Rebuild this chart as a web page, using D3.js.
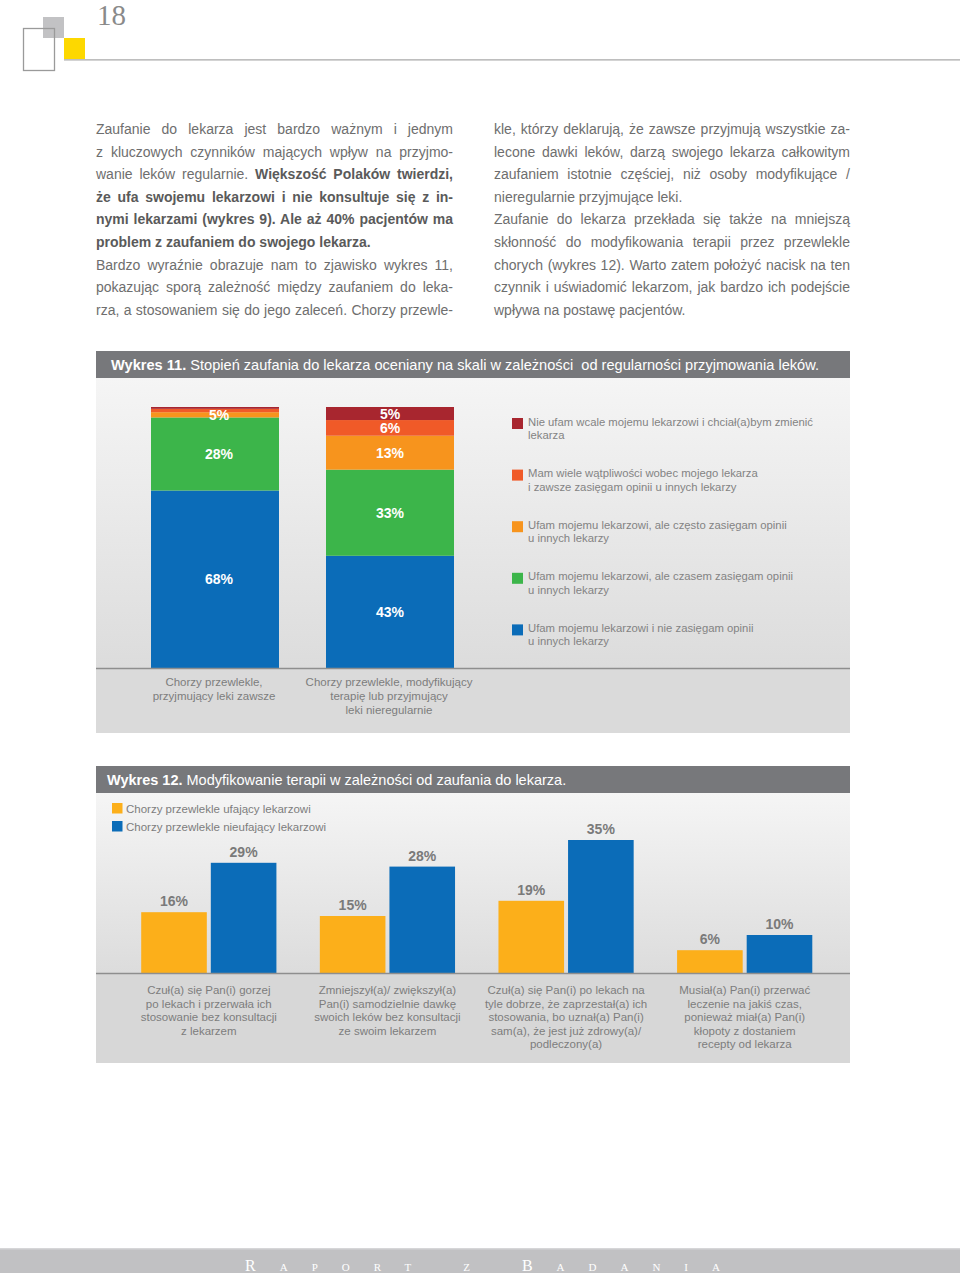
<!DOCTYPE html>
<html lang="pl">
<head>
<meta charset="UTF-8">
<title>Raport z badania - 18</title>
<script src="https://d3js.org/d3.v7.min.js"></script>
<style>
    body { margin: 0; background: #fff; }
    #page { position: relative; width: 960px; height: 1273px; overflow: hidden; font-family: "Liberation Sans", Arial, sans-serif; }
    #page svg { position: absolute; left: 0; top: 0; }
    .line { position: absolute; font-size: 14px; line-height: 22.6px; color: #6e6e6e; white-space: nowrap; }
    .line.j { text-align: justify; text-align-last: justify; white-space: normal; }
    .line b { color: #5a5a5a; }
</style>
</head>
<body>
<div id="page"></div>
<script>
// ---- chart 11 data (stacked bars, %)
var groups11 = ["Chorzy przewlekle, przyjmujący leki zawsze", "Chorzy przewlekle, modyfikujący terapię lub przyjmujący leki nieregularnie"];
var groupLines11 = [["Chorzy przewlekle,", "przyjmujący leki zawsze"], ["Chorzy przewlekle, modyfikujący", "terapię lub przyjmujący", "leki nieregularnie"]];
var levels11 = ["ufam", "czasem", "czesto", "watpliwosci", "nieufam"]; // bottom -> top
var bar1 = [68, 28, 2, 1.3, 0.7];
var bar2 = [43, 33, 13, 6, 5];
var labels1 = ["68%", "28%", "5%", "", ""];
var labels2 = ["43%", "33%", "13%", "6%", "5%"];
var legend11 = [
    ["Nie ufam wcale mojemu lekarzowi i chciał(a)bym zmienić", "lekarza"],
    ["Mam wiele wątpliwości wobec mojego lekarza", "i zawsze zasięgam opinii u innych lekarzy"],
    ["Ufam mojemu lekarzowi, ale często zasięgam opinii", "u innych lekarzy"],
    ["Ufam mojemu lekarzowi, ale czasem zasięgam opinii", "u innych lekarzy"],
    ["Ufam mojemu lekarzowi i nie zasięgam opinii", "u innych lekarzy"]
];
var legendKeys11 = ["nieufam", "watpliwosci", "czesto", "czasem", "ufam"];

// ---- chart 12 data (grouped bars, %)
var groups12 = ["gorzej", "dawka", "zdrowy", "recepta"];
var groupLines12 = [
    ["Czuł(a) się Pan(i) gorzej", "po lekach i przerwała ich", "stosowanie bez konsultacji", "z lekarzem"],
    ["Zmniejszył(a)/ zwiększył(a)", "Pan(i) samodzielnie dawkę", "swoich leków bez konsultacji", "ze swoim lekarzem"],
    ["Czuł(a) się Pan(i) po lekach na", "tyle dobrze, że zaprzestał(a) ich", "stosowania, bo uznał(a) Pan(i)", "sam(a), że jest już zdrowy(a)/", "podleczony(a)"],
    ["Musiał(a) Pan(i) przerwać", "leczenie na jakiś czas,", "ponieważ miał(a) Pan(i)", "kłopoty z dostaniem", "recepty od lekarza"]
];
var series12 = ["Chorzy przewlekle ufający lekarzowi", "Chorzy przewlekle nieufający lekarzowi"];
var ufajacy = [16, 15, 19, 6];
var nieufajacy = [29, 28, 35, 10];

// ---- body text
var leftLines = [
    ["Zaufanie do lekarza jest bardzo ważnym i jednym", 1],
    ["z kluczowych czynników mających wpływ na przyjmo-", 1],
    ["wanie leków regularnie. <b>Większość Polaków twierdzi,</b>", 1],
    ["<b>że ufa swojemu lekarzowi i nie konsultuje się z in-</b>", 1],
    ["<b>nymi lekarzami (wykres 9). Ale aż 40% pacjentów ma</b>", 1],
    ["<b>problem z zaufaniem do swojego lekarza.</b>", 0],
    ["Bardzo wyraźnie obrazuje nam to zjawisko wykres 11,", 1],
    ["pokazując sporą zależność między zaufaniem do leka-", 1],
    ["rza, a stosowaniem się do jego zaleceń. Chorzy przewle-", 1]
];
var rightLines = [
    ["kle, którzy deklarują, że zawsze przyjmują wszystkie za-", 1],
    ["lecone dawki leków, darzą swojego lekarza całkowitym", 1],
    ["zaufaniem istotnie częściej, niż osoby modyfikujące /", 1],
    ["nieregularnie przyjmujące leki.", 0],
    ["Zaufanie do lekarza przekłada się także na mniejszą", 1],
    ["skłonność do modyfikowania terapii przez przewlekle", 1],
    ["chorych (wykres 12). Warto zatem położyć nacisk na ten", 1],
    ["czynnik i uświadomić lekarzom, jak bardzo ich podejście", 1],
    ["wpływa na postawę pacjentów.", 0]
];

var page = d3.select("#page");
var svg = page.append("svg").attr("width", 960).attr("height", 1273);
var font = "'Liberation Sans', Arial, sans-serif";

// gradient for chart panels
var defs = svg.append("defs");
var grad = defs.append("linearGradient").attr("id", "panel").attr("x1", 0).attr("y1", 0).attr("x2", 0).attr("y2", 1);
grad.append("stop").attr("offset", "0%").attr("stop-color", "#f5f5f5");
grad.append("stop").attr("offset", "100%").attr("stop-color", "#dcdcdc");

// ---- page header
svg.append("rect").attr("x", 43).attr("y", 17).attr("width", 21).attr("height", 21).attr("fill", "#c2c2c4");
svg.append("rect").attr("x", 23.5).attr("y", 28.5).attr("width", 31).attr("height", 42)
    .attr("fill", "none").attr("stroke", "#9a9a9a").attr("stroke-width", 1.3);
svg.append("rect").attr("x", 64).attr("y", 38).attr("width", 21).attr("height", 21).attr("fill", "#fdd800");
svg.append("line").attr("x1", 64).attr("x2", 960).attr("y1", 59.8).attr("y2", 59.8)
    .attr("stroke", "#a8a8a8").attr("stroke-width", 1.2);
svg.append("text").attr("x", 97).attr("y", 24.5).text("18")
    .style("font-family", "'Liberation Serif', 'DejaVu Serif', serif").style("font-size", "29px").attr("fill", "#8a8a8a");

// ---- body text columns
function column(lines, x, w) {
    page.selectAll(null).data(lines).enter().append("div")
        .attr("class", function(d) { return d[1] ? "line j" : "line"; })
        .style("left", x + "px")
        .style("width", w + "px")
        .style("top", function(d, i) { return (118 + i * 22.6) + "px"; })
        .html(function(d) { return d[0]; });
}
column(leftLines, 96, 357);
column(rightLines, 494, 356);

// ---- title bars
function titleBar(y, bold, rest, x, size) {
    svg.append("rect").attr("x", 96).attr("y", y).attr("width", 754).attr("height", 27).attr("fill", "#77787b");
    var t = svg.append("text").attr("x", x).attr("y", y + 18.5)
        .style("font-family", font).style("font-size", size + "px").style("white-space", "pre")
        .attr("fill", "#fff");
    t.append("tspan").attr("font-weight", "bold").text(bold);
    t.append("tspan").text(rest);
}

// ================= CHART 11 =================
titleBar(351, "Wykres 11.", " Stopień zaufania do lekarza oceniany na skali w zależności  od regularności przyjmowania leków.", 111, 14.6);
svg.append("rect").attr("x", 96).attr("y", 378).attr("width", 754).attr("height", 290).attr("fill", "url(#panel)");
svg.append("rect").attr("x", 96).attr("y", 668).attr("width", 754).attr("height", 65).attr("fill", "#dadada");

var colors11 = d3.scaleOrdinal().domain(levels11)
    .range(["#0b6cb8", "#3cb54a", "#f7941d", "#f05a28", "#a8262f"]);
var x11 = d3.scaleBand().domain(groups11).range([151, 454]).paddingInner(0.2686).paddingOuter(0);
var y11 = d3.scaleLinear().domain([0, 100]).range([668, 407]);

var rows11 = [bar1, bar2].map(function(vals, gi) {
    var o = { group: groups11[gi] };
    levels11.forEach(function(k, i) { o[k] = vals[i]; });
    return o;
});
var stack11 = d3.stack().keys(levels11)(rows11);
var allLabels = [labels1, labels2];
var labelShift = [4, 0]; // first bar's labels sit a bit right of centre in the original

var layer = svg.append("g").selectAll("g").data(stack11).enter().append("g")
    .attr("fill", function(d) { return colors11(d.key); });
layer.selectAll("rect").data(function(d) { return d; }).enter().append("rect")
    .attr("x", function(d) { return x11(d.data.group); })
    .attr("width", x11.bandwidth())
    .attr("y", function(d) { return y11(d[1]); })
    .attr("height", function(d) { return y11(d[0]) - y11(d[1]); });

stack11.forEach(function(s, li) {
    s.forEach(function(d, gi) {
        var txt = allLabels[gi][li];
        if (!txt) return;
        svg.append("text")
            .attr("x", x11(d.data.group) + x11.bandwidth() / 2 + labelShift[gi])
            .attr("y", (y11(d[0]) + y11(d[1])) / 2 + 5)
            .attr("text-anchor", "middle")
            .style("font-family", font).style("font-size", "14px").style("font-weight", "bold")
            .attr("fill", "#fff").text(txt);
    });
});

svg.append("line").attr("x1", 96).attr("x2", 850).attr("y1", 668.5).attr("y2", 668.5)
    .attr("stroke", "#8e8e8e").attr("stroke-width", 1.6);

groups11.forEach(function(g, gi) {
    svg.append("text").attr("text-anchor", "middle")
        .style("font-family", font).style("font-size", "11.5px").attr("fill", "#7d7d7d")
        .selectAll("tspan").data(groupLines11[gi]).enter().append("tspan")
        .attr("x", x11(g) + x11.bandwidth() / 2 - 1)
        .attr("y", function(d, i) { return 686 + i * 13.8; })
        .text(function(d) { return d; });
});

// legend 11
var leg11 = svg.append("g").selectAll("g").data(legend11).enter().append("g")
    .attr("transform", function(d, i) { return "translate(512," + (421.5 + i * 51.6) + ")"; });
leg11.append("rect").attr("x", 0).attr("y", -3.5).attr("width", 11).attr("height", 11)
    .attr("fill", function(d, i) { return colors11(legendKeys11[i]); });
leg11.append("text").style("font-family", font).style("font-size", "11.3px").attr("fill", "#838383")
    .selectAll("tspan").data(function(d) { return d; }).enter().append("tspan")
    .attr("x", 16).attr("y", function(d, i) { return 4 + i * 13.6; })
    .text(function(d) { return d; });

// ================= CHART 12 =================
titleBar(766, "Wykres 12.", " Modyfikowanie terapii w zależności od zaufania do lekarza.", 107, 14.5);
svg.append("rect").attr("x", 96).attr("y", 793).attr("width", 754).attr("height", 180).attr("fill", "url(#panel)");
svg.append("rect").attr("x", 96).attr("y", 973).attr("width", 754).attr("height", 90).attr("fill", "#d7d7d7");

var colors12 = d3.scaleOrdinal().domain(series12).range(["#fcaf1a", "#0b6cb8"]);
var x0 = d3.scaleBand().domain(groups12).range([119.5, 834]).padding(0);
var x1 = d3.scaleBand().domain(series12).range([0, 135.2]).paddingInner(0.0575).paddingOuter(0);
var y12 = d3.scaleLinear().domain([0, 35]).range([973, 840]);
var off = (x0.bandwidth() - 135.2) / 2;

var rows12 = groups12.map(function(g, i) {
    return [{ g: g, s: series12[0], v: ufajacy[i] }, { g: g, s: series12[1], v: nieufajacy[i] }];
});
var grp = svg.append("g").selectAll("g").data(rows12).enter().append("g")
    .attr("transform", function(d) { return "translate(" + (x0(d[0].g) + off) + ",0)"; });
grp.selectAll("rect").data(function(d) { return d; }).enter().append("rect")
    .attr("x", function(d) { return x1(d.s); })
    .attr("width", x1.bandwidth())
    .attr("y", function(d) { return y12(d.v); })
    .attr("height", function(d) { return y12(0) - y12(d.v); })
    .attr("fill", function(d) { return colors12(d.s); });
grp.selectAll("text").data(function(d) { return d; }).enter().append("text")
    .attr("x", function(d) { return x1(d.s) + x1.bandwidth() / 2; })
    .attr("y", function(d) { return y12(d.v) - 6; })
    .attr("text-anchor", "middle")
    .style("font-family", font).style("font-size", "14px").style("font-weight", "bold")
    .attr("fill", "#7a7a7a")
    .text(function(d) { return d.v + "%"; });

svg.append("line").attr("x1", 96).attr("x2", 850).attr("y1", 973.5).attr("y2", 973.5)
    .attr("stroke", "#8e8e8e").attr("stroke-width", 1.6);

groups12.forEach(function(g, gi) {
    svg.append("text").attr("text-anchor", "middle")
        .style("font-family", font).style("font-size", "11.5px").attr("fill", "#7d7d7d")
        .selectAll("tspan").data(groupLines12[gi]).enter().append("tspan")
        .attr("x", x0(g) + x0.bandwidth() / 2)
        .attr("y", function(d, i) { return 994 + i * 13.6; })
        .text(function(d) { return d; });
});

// legend 12
var leg12 = svg.append("g").selectAll("g").data(series12).enter().append("g")
    .attr("transform", function(d, i) { return "translate(112," + (803 + i * 18) + ")"; });
leg12.append("rect").attr("width", 10.5).attr("height", 10.5).attr("fill", function(d) { return colors12(d); });
leg12.append("text").attr("x", 14).attr("y", 9.5)
    .style("font-family", font).style("font-size", "11.5px").attr("fill", "#7d7d7d")
    .text(function(d) { return d; });

// ---- footer
svg.append("rect").attr("x", 0).attr("y", 1248).attr("width", 960).attr("height", 25).attr("fill", "#c1c1c3");
svg.append("rect").attr("x", 0).attr("y", 1248).attr("width", 960).attr("height", 1.5).attr("fill", "#d6d6d8");
svg.append("text").attr("x", 245).attr("y", 1271)
    .attr("textLength", 475).attr("lengthAdjust", "spacing")
    .style("font-family", "'Liberation Serif', 'DejaVu Serif', serif").style("font-size", "16px")
    .style("font-variant", "small-caps").attr("fill", "#fff")
    .text("Raport z Badania");
</script>
</body>
</html>
